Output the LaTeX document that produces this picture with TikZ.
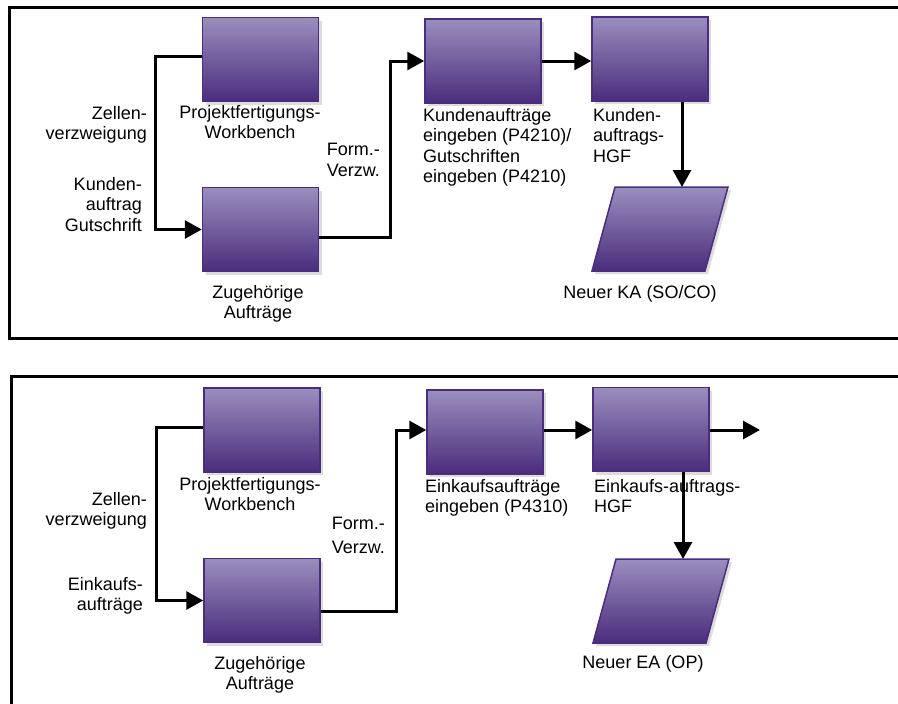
\documentclass[tikz,border=0pt]{standalone}
\usepackage{fontspec}
\setmainfont{Liberation Sans}
\usetikzlibrary{arrows.meta,shadows}
\definecolor{violetTop}{HTML}{9A8EBE}
\definecolor{violetBot}{HTML}{4A2C7C}
\definecolor{violetLine}{HTML}{4B2D80}
\definecolor{shadowGray}{HTML}{DCDCDC}
\begin{document}
\begin{tikzpicture}[x=1pt, y=-1pt,
    every node/.style={font=\fontsize{18}{20.5}\selectfont, inner sep=0pt},
    box/.style={shape=rectangle, draw=violetLine, line width=1.5pt,
                top color=violetTop, bottom color=violetBot,
                minimum width=116pt, minimum height=84pt,
                drop shadow={shadow xshift=3pt, shadow yshift=-3pt, fill=shadowGray, opacity=1}},
    lbl/.style={align=center, anchor=north},
    lbll/.style={align=left, anchor=north west},
    lblr/.style={align=right, anchor=north east},
    conn/.style={line width=3pt, -{Triangle[length=17pt,width=18pt]}},
    frame/.style={line width=3pt}]
    \useasboundingbox (0,0) rectangle (898,704);

    % upper panel: Kundenauftrag / Gutschrift
    \draw[frame] (905,7) -- (9,7) -- (9,338) -- (905,338);
    \node[box] (pw1) at (260.5,59.5) {};
    \node[box] (za1) at (260.5,229.5) {};
    \node[box] (ka1) at (483,61) {};
    \node[box] (hgf1) at (650,59) {};
    \shade[top color=violetTop, bottom color=violetBot, draw=violetLine, line width=1.5pt,
           drop shadow={shadow xshift=3pt, shadow yshift=-3pt, fill=shadowGray, opacity=1}]
        (615,187) -- (728,187) -- (705,271) -- (592,271) -- cycle;
    \coordinate (neu1) at (682,187);

    \node[lblr] (zv1) at (147,106) {Zellen-\\verzweigung};
    \node[lblr] (kg1) at (142,177) {Kunden-\\auftrag\\Gutschrift};
    \node[lbl] (pwl1) at (250,105) {Projektfertigungs-\\Workbench};
    \node[lblr] (fv1) at (380,143) {Form.-\\Verzw.};
    \node[lbl] (zal1) at (258,285) {Zugehörige\\Aufträge};
    \node[lbll] (kal1) at (423,108) {Kundenaufträge\\eingeben (P4210)/\\Gutschriften\\eingeben (P4210)};
    \node[lbll] (hgfl1) at (593,108) {Kunden-\\auftrags-\\HGF};
    \node[lbl] (neul1) at (640,285) {Neuer KA (SO/CO)};

    \draw[conn] ([yshift=3pt]pw1.west) -- ++(-46,0) |- (za1.west);
    \draw[conn] ([yshift=-8pt]za1.east) -- ++(71,0) |- (ka1.west);
    \draw[conn] (ka1.east) -- (ka1.east -| hgf1.west);
    \draw[conn] (hgf1.south -| neu1) -- (neu1);

    % lower panel: Einkaufsauftraege
    \draw[frame] (905,376) -- (11,376) -- (11,710);
    \node[box] (pw2) at (262,430) {};
    \node[box] (za2) at (262,600.5) {};
    \node[box] (ea2) at (485,432) {};
    \node[box] (hgf2) at (651,429.5) {};
    \shade[top color=violetTop, bottom color=violetBot, draw=violetLine, line width=1.5pt,
           drop shadow={shadow xshift=3pt, shadow yshift=-3pt, fill=shadowGray, opacity=1}]
        (616,559) -- (729,559) -- (706,643) -- (593,643) -- cycle;
    \coordinate (neu2) at (683,559);
    \coordinate (out2) at (760,430);

    \node[lblr] (zv2) at (147,492) {Zellen-\\verzweigung};
    \node[lblr] (ek2) at (143,577) {Einkaufs-\\aufträge};
    \node[lbl] (pwl2) at (250,477) {Projektfertigungs-\\Workbench};
    \node[lblr] (fv2) at (385,517) {Form.-\\[3pt]Verzw.};
    \node[lbl] (zal2) at (260,656) {Zugehörige\\Aufträge};
    \node[lbll] (eal2) at (425,479) {Einkaufsaufträge\\eingeben (P4310)};
    \node[lbll] (hgfl2) at (594,479) {Einkaufs-auftrags-\\HGF};
    \node[lbl] (neul2) at (643,655) {Neuer EA (OP)};

    \draw[conn] ([yshift=3pt]pw2.west) -- ++(-47,0) |- (za2.west);
    \draw[conn] ([yshift=-11pt]za2.east) -- ++(76,0) |- ([yshift=2pt]ea2.west);
    \draw[conn] ([yshift=2pt]ea2.east) -- ([yshift=2pt]ea2.east -| hgf2.west);
    \draw[conn] (hgf2.east |- out2) -- (out2);
    \draw[conn] (hgf2.south -| neu2) -- (neu2);
\end{tikzpicture}
\end{document}
